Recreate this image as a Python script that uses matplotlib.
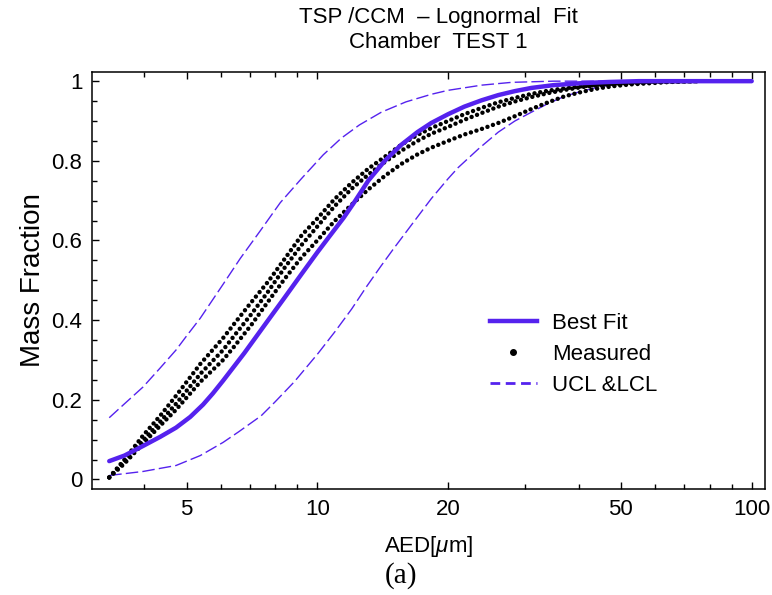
import matplotlib
matplotlib.use('Agg')
import matplotlib.pyplot as plt
from matplotlib.lines import Line2D
from matplotlib.ticker import FixedLocator, NullFormatter

# values
best_x = [3.32, 3.6, 3.97, 4.35, 4.73, 5.1, 5.46, 5.75, 6.07, 6.79, 7.71, 8.39, 9.19, 10.0,
          10.66, 11.5, 12.2, 13.1, 14.3, 15.6, 17.0, 18.3, 20.0, 21.8, 23.9, 26.1, 28.5, 31.1,
          35.0, 40.6, 47.0, 55.0, 100.0]
best_y = [0.046, 0.06, 0.084, 0.107, 0.13, 0.157, 0.188, 0.216, 0.248, 0.317, 0.40, 0.455,
          0.515, 0.57, 0.61, 0.657, 0.698, 0.75, 0.80, 0.84, 0.872, 0.895, 0.917, 0.936, 0.952,
          0.965, 0.975, 0.983, 0.99, 0.995, 0.998, 1.0, 1.0]

ucl_x = [3.32, 3.6, 3.97, 4.35, 4.73, 5.0, 5.38, 6.07, 6.65, 7.4, 8.22, 9.19, 10.32, 11.36,
         12.5, 14.04, 16.0, 18.3, 20.0, 23.9, 28.0, 35.0, 100.0]
ucl_y = [0.155, 0.19, 0.232, 0.28, 0.325, 0.36, 0.405, 0.49, 0.555, 0.625, 0.695, 0.755, 0.815,
         0.857, 0.89, 0.922, 0.948, 0.967, 0.977, 0.99, 0.997, 1.0, 1.0]

lcl_x = [3.32, 3.97, 4.73, 5.38, 6.07, 6.6, 7.43, 8.0, 8.85, 10.05, 11.0, 12.0, 13.0, 14.0,
         15.0, 16.5, 18.3, 20.0, 21.1, 23.5, 26.1, 28.5, 31.1, 34.0, 37.1, 40.6, 44.4, 48.5,
         52.9, 60.0, 100.0]
lcl_y = [0.01, 0.02, 0.035, 0.06, 0.093, 0.12, 0.16, 0.195, 0.245, 0.317, 0.372, 0.428, 0.485,
         0.535, 0.58, 0.64, 0.705, 0.755, 0.783, 0.83, 0.872, 0.9, 0.922, 0.944, 0.962, 0.975,
         0.985, 0.992, 0.996, 0.999, 1.0]

meas_x = [3.32, 3.6, 3.97, 4.35, 4.73, 5.38, 6.07, 6.43, 7.05, 7.71, 8.39, 9.19, 10.0,
          10.94, 12.0, 13.1, 14.3, 15.6, 17.0, 18.3, 20.0, 21.8, 23.9, 26.1, 28.5, 31.1,
          34.0, 37.1, 40.6, 44.4, 48.5, 52.9, 58.7, 65.0, 76.0]
meas_1 = [0.005, 0.05, 0.11, 0.16, 0.21, 0.29, 0.355, 0.39, 0.445, 0.497, 0.552, 0.612, 0.655,
          0.703, 0.745, 0.78, 0.81, 0.84, 0.865, 0.882, 0.9, 0.917, 0.933, 0.947, 0.958, 0.968,
          0.976, 0.982, 0.987, 0.991, 0.994, 0.996, 0.998, 0.999, 1.0]
meas_2 = [0.005, 0.045, 0.098, 0.145, 0.19, 0.265, 0.325, 0.36, 0.415, 0.472, 0.53, 0.588, 0.635,
          0.685, 0.73, 0.765, 0.797, 0.825, 0.85, 0.868, 0.885, 0.903, 0.92, 0.936, 0.949, 0.96,
          0.97, 0.978, 0.985, 0.99, 0.993, 0.996, 0.998, 0.999, 1.0]
meas_3 = [0.005, 0.04, 0.09, 0.135, 0.175, 0.245, 0.30, 0.333, 0.388, 0.447, 0.502, 0.557, 0.60,
          0.648, 0.69, 0.728, 0.762, 0.792, 0.816, 0.833, 0.85, 0.866, 0.88, 0.895, 0.912, 0.93,
          0.947, 0.962, 0.973, 0.982, 0.988, 0.992, 0.995, 0.998, 1.0]

x_major = [5, 10, 20, 50, 100]
x_minor = [4, 6, 7, 8, 9, 30, 40, 60, 70, 80, 90]
y_major = [0, 0.2, 0.4, 0.6, 0.8, 1.0]
y_labels = ['0', '0.2', '0.4', '0.6', '0.8', '1']

BLUE = '#5522EE'
FS = 16

plt.rcParams['font.family'] = ['Liberation Sans', 'DejaVu Sans']
plt.rcParams['mathtext.fontset'] = 'custom'
plt.rcParams['mathtext.it'] = 'Liberation Sans:italic'
plt.rcParams['mathtext.rm'] = 'Liberation Sans'

fig = plt.figure(figsize=(7.72, 5.95), dpi=100)
ax = fig.add_axes([92 / 772, 1 - 489 / 595, (765 - 92) / 772, (489 - 72) / 595])

# confidence limits
ax.plot(ucl_x, ucl_y, color=BLUE, lw=1.0, dashes=(9, 3))
ax.plot(lcl_x, lcl_y, color=BLUE, lw=1.0, dashes=(9, 3))

# measured runs (dense dots)
for ys in (meas_1, meas_2, meas_3):
    ax.plot(meas_x, ys, color='black', lw=3.2, dashes=(0.01, 1.3),
            dash_capstyle='round', solid_capstyle='round')

ax.plot(best_x, best_y, color=BLUE, lw=3.2, solid_capstyle='round')

ax.set_xscale('log')
ax.set_xlim(3.03, 107.3)
ax.set_ylim(-0.024, 1.023)

ax.xaxis.set_major_locator(FixedLocator(x_major))
ax.xaxis.set_minor_locator(FixedLocator(x_minor))
ax.xaxis.set_minor_formatter(NullFormatter())
ax.set_xticklabels([str(v) for v in x_major])
ax.set_yticks(y_major)
ax.set_yticklabels(y_labels)
ax.set_yticks([0.05 * i for i in range(21) if i % 4], minor=True)

ax.tick_params(which='both', direction='in', top=True, right=False, width=1.0,
               labelsize=FS, pad=7)
ax.tick_params(which='major', length=5)
ax.tick_params(which='minor', length=3.5)
for s in ax.spines.values():
    s.set_linewidth(1.1)

ax.set_xlabel(r'AED[$\mu$m]', fontsize=FS, labelpad=10)
ax.set_ylabel('Mass Fraction', fontsize=20, labelpad=4)

fig.text(438 / 772, 1 - 18 / 595, 'TSP /CCM  \u2013 Lognormal  Fit', ha='center', va='center',
         fontsize=FS)
fig.text(438 / 772, 1 - 42 / 595, 'Chamber  TEST 1', ha='center', va='center', fontsize=FS)
fig.text(401 / 772, 1 - 576 / 595, '(a)', ha='center', va='center', fontsize=21,
         family='Liberation Serif')

handles = [Line2D([], [], color=BLUE, lw=3.2),
           Line2D([], [], color='black', marker='o', ms=4, ls='none'),
           Line2D([], [], color=BLUE, lw=2.0, dashes=(3.5, 2.0))]
ax.legend(handles, ['Best Fit', 'Measured', 'UCL &LCL'], loc='upper left',
          bbox_to_anchor=(490 / 772, 1 - 313 / 595), bbox_transform=fig.transFigure,
          frameon=False, fontsize=FS, borderpad=0, borderaxespad=0,
          handlelength=2.1, handletextpad=0.7, labelspacing=0.45)

fig.savefig('out.png', dpi=100)
